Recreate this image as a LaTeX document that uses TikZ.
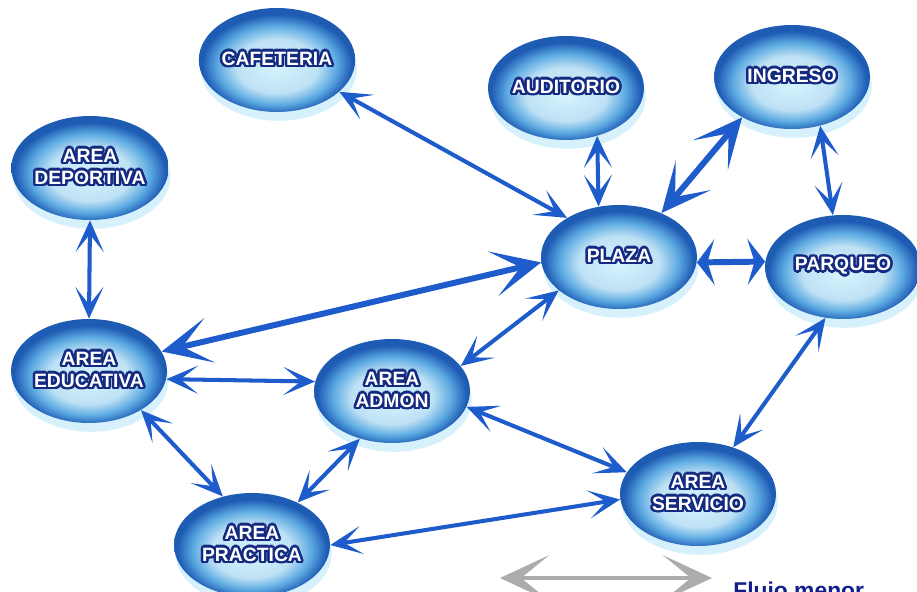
\documentclass[tikz,border=0pt]{standalone}
\usepackage{fontspec}
\setmainfont{Liberation Sans}
\usepackage[copies]{contour}
\usepackage{xcolor}
\usetikzlibrary{arrows.meta,shapes.geometric,shadows}

\definecolor{bubbleedge}{RGB}{30,92,180}
\definecolor{bubblemid}{RGB}{92,170,226}
\definecolor{bubblecore}{RGB}{212,243,253}
\definecolor{bubbleink}{RGB}{20,42,128}
\definecolor{arrowblue}{RGB}{30,92,204}
\definecolor{legendink}{RGB}{18,30,138}

\pgfdeclareradialshading{bubbleshade}{\pgfpoint{0bp}{-4bp}}{%
    color(0bp)=(bubblecore); color(13bp)=(bubblecore!88!bubbleedge);
    color(19bp)=(bubblemid); color(24bp)=(bubbleedge); color(50bp)=(bubbleedge)}

\contourlength{1.4pt}
\newcommand{\bubbletext}[1]{\contour{bubbleink}{#1}}

\tikzset{
    bubble/.style={ellipse, shading=bubbleshade,
        minimum width=3.12cm, minimum height=2.08cm, inner sep=0pt,
        text=white, align=center, font=\bfseries\fontsize{11}{12.5}\selectfont,
        drop shadow={shadow xshift=1pt, shadow yshift=-5pt, fill=cyan!18, opacity=.9}},
    link/.style={arrowblue, line width=2.3pt,
        {Stealth[length=18pt,width=16pt,inset=10pt]}-{Stealth[length=18pt,width=16pt,inset=10pt]}},
    biglink/.style={arrowblue, line width=3.4pt,
        {Stealth[length=28pt,width=26pt,inset=16pt]}-{Stealth[length=28pt,width=26pt,inset=16pt]}},
    shortlink/.style={arrowblue, line width=3.4pt,
        {Stealth[length=10pt,width=26pt,inset=4pt]}-{Stealth[length=10pt,width=26pt,inset=4pt]}}
}

\begin{document}
\begin{tikzpicture}[x=0.02cm, y=-0.02cm]
        \useasboundingbox (0,0) rectangle (917,592);

        % areas
        \node(cafeteria) [bubble] at (277,60) {\bubbletext{CAFETERIA}};
        \node(auditorio) [bubble] at (566,88) {\bubbletext{AUDITORIO}};
        \node(ingreso) [bubble] at (792,77) {\bubbletext{INGRESO}};
        \node(deportiva) [bubble] at (90,168) {\bubbletext{AREA}\\\bubbletext{DEPORTIVA}};
        \node(plaza) [bubble] at (619,257) {\bubbletext{PLAZA}};
        \node(parqueo) [bubble] at (843,267) {\bubbletext{PARQUEO}};
        \node(educativa) [bubble] at (89,371) {\bubbletext{AREA}\\\bubbletext{EDUCATIVA}};
        \node(admon) [bubble] at (392,391) {\bubbletext{AREA}\\\bubbletext{ADMON}};
        \node(servicio) [bubble] at (698,494) {\bubbletext{AREA}\\\bubbletext{SERVICIO}};
        \node(practica) [bubble] at (252,545) {\bubbletext{AREA}\\\bubbletext{PRACTICA}};

        % flujos
        \draw [link] (cafeteria.-27) -- (plaza.143);
        \draw [link] (auditorio.-57) -- (plaza.112);
        \draw [biglink] (ingreso.219) -- (plaza.46);
        \draw [link] (ingreso.-60) -- (parqueo.101);
        \draw [shortlink] (plaza.-4) -- (parqueo.176);
        \draw [link] (deportiva.270) -- (educativa.90);
        \draw [biglink] (educativa.15) -- (plaza.184);
        \draw [link] (educativa.-6) -- (admon.173);
        \draw [link] (admon.20) -- (plaza.209);
        \draw [link] (educativa.-37) -- (practica.121);
        \draw [link] (practica.43) -- (admon.236);
        \draw [link] (admon.-12) -- (servicio.163);
        \draw [link] (practica.0) -- (servicio.184);
        \draw [link] (parqueo.251) -- (servicio.53);

        % leyenda
        \coordinate (legL) at (500,578);
        \coordinate (legR) at (712,578);
        \draw [biglink, gray!65, line width=2pt] (legL) -- (legR);
        \node(legend) [anchor=north west, text=legendink, font=\bfseries\fontsize{13}{14}\selectfont, inner sep=0pt] at (733,582) {Flujo menor};
\end{tikzpicture}
\end{document}
